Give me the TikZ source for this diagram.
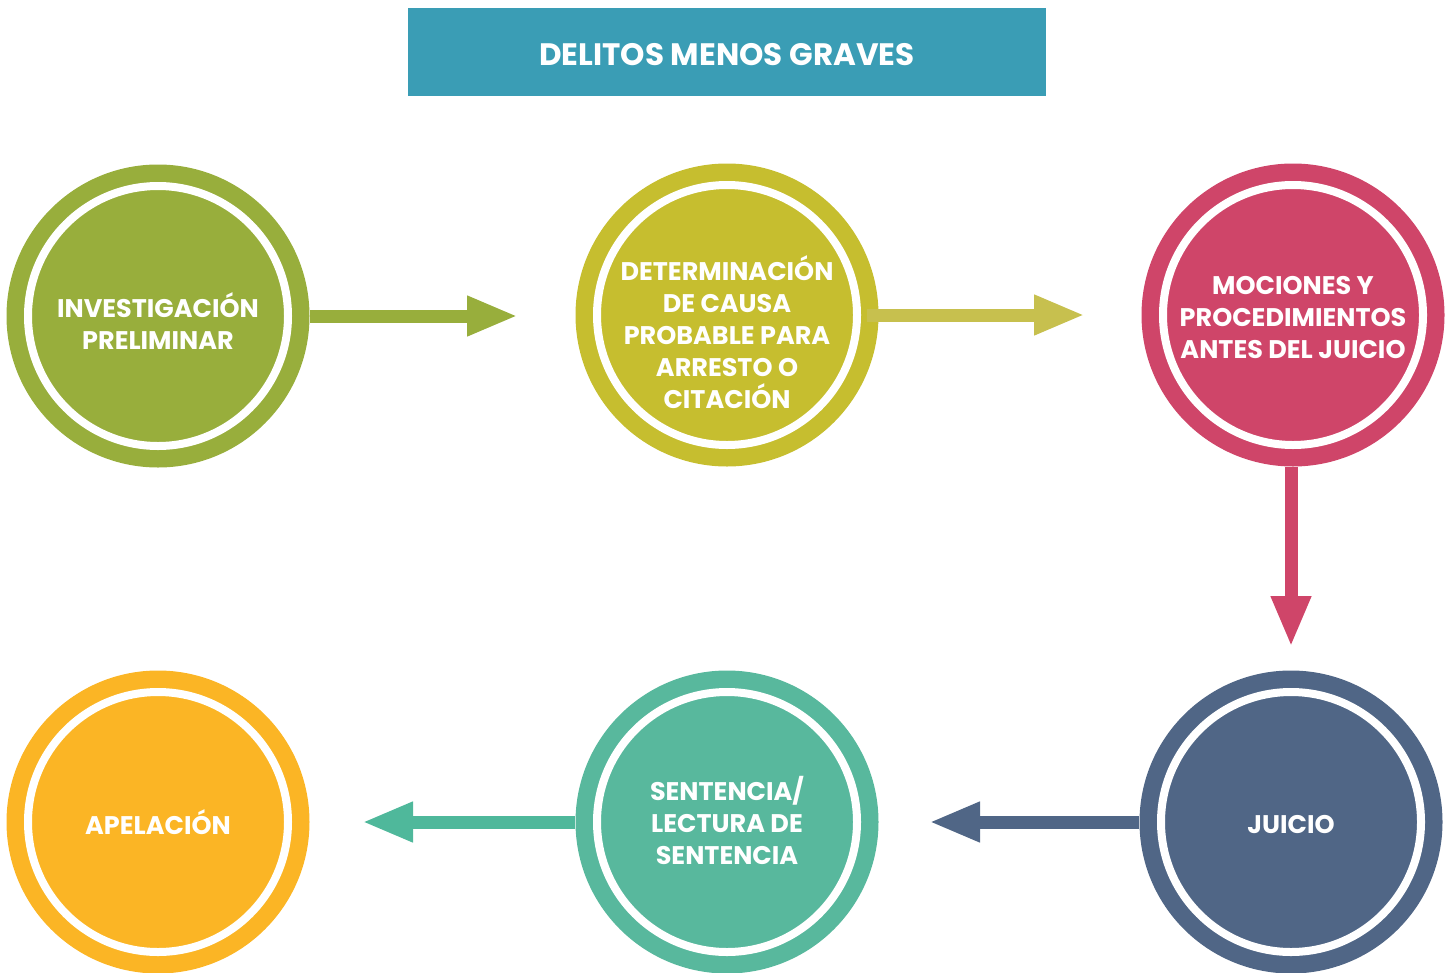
\documentclass[tikz,border=0pt]{standalone}
\usepackage{fontspec}
\setmainfont{Poppins}
\usetikzlibrary{arrows.meta,calc}

\definecolor{cTitle}{HTML}{3A9DB5}
\definecolor{cInv}{HTML}{98AE3C}
\definecolor{cDet}{HTML}{C6BE2F}
\definecolor{cDetA}{HTML}{C7C04E}
\definecolor{cMoc}{HTML}{CF4569}
\definecolor{cJui}{HTML}{506686}
\definecolor{cSen}{HTML}{58B89D}
\definecolor{cSenA}{HTML}{4FB89B}
\definecolor{cApe}{HTML}{FBB525}

\tikzset{
  stage/.style={circle, fill=#1, minimum size=303pt, inner sep=0pt,
    path picture={\draw[white, line width=8pt] (path picture bounding box.center) circle (130pt);}},
  stagetext/.style={text=white, align=center, inner sep=0pt,
    font=\fontsize{25.5}{32}\selectfont\bfseries},
  flow/.style={draw=#1, line width=13pt, -{Triangle[length=51pt, width=37pt]}}
}

\begin{document}
\begin{tikzpicture}[x=1pt, y=-1pt]
\useasboundingbox (0,0) rectangle (1453,972);

\fill[cTitle] (408, 8) rectangle (1046, 96);
\node[text=white, font=\fontsize{31}{34}\selectfont\bfseries] at (727, 55) (title) {DELITOS MENOS GRAVES};

\node[stage=cInv] at (158, 316) (inv) {};
\node[stage=cDet] at (727, 315) (det) {};
\node[stage=cMoc] at (1293, 315) (moc) {};

\node[stage=cJui] at (1291, 822) (jui) {};
\node[stage=cSen] at (727, 822) (sen) {};
\node[stage=cApe] at (158, 822) (ape) {};

\node[stagetext] at ($(inv)+(0,5)$) (invText) {INVESTIGACIÓN\\PRELIMINAR};
\node[stagetext] at ($(det)+(0,17)$) (detText) {DETERMINACIÓN\\DE CAUSA\\PROBABLE PARA\\ARRESTO O\\CITACIÓN};
\node[stagetext] at ($(moc)+(0,3)$) (mocText) {MOCIONES Y\\PROCEDIMIENTOS\\ANTES DEL JUICIO};
\node[stagetext] at ($(jui)+(0,2)$) (juiText) {JUICIO};
\node[stagetext] at ($(sen)+(0,-2)$) (senText) {SENTENCIA/\\LECTURA DE\\SENTENCIA};
\node[stagetext] at (ape) (apeText) {APELACIÓN};

% free ends of the arrows
\coordinate (invEnd) at (518, 316);
\coordinate (detEnd) at (1085, 315);
\coordinate (mocEnd) at (1291, 647);
\coordinate (juiEnd) at (929, 822);
\coordinate (senEnd) at (362, 822);

\draw [flow=cInv] (inv.east) -- (invEnd);
\draw [flow=cDetA] ($(det.east)+(-12,0)$) -- (detEnd);
\draw [flow=cMoc] (moc.south -| mocEnd) -- (mocEnd);
\draw [flow=cJui] (jui.west) -- (juiEnd);
\draw [flow=cSenA] (sen.west) -- (senEnd);

\end{tikzpicture}
\end{document}
